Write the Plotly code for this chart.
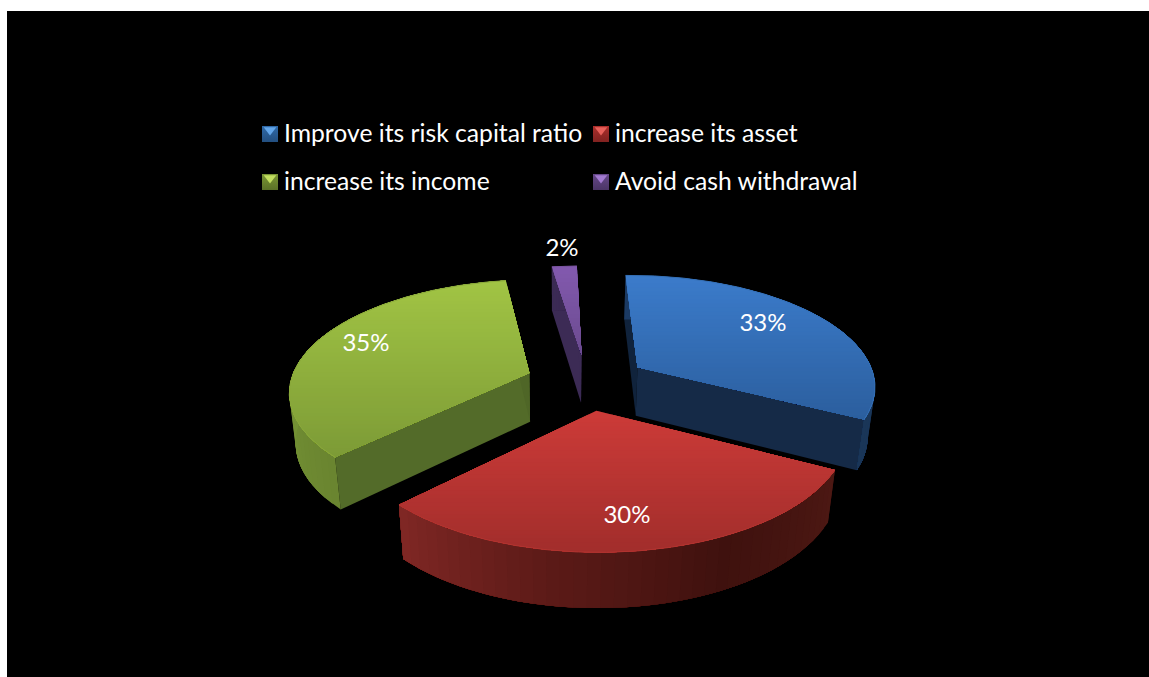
import numpy as np
import plotly.graph_objects as go

# Survey answers: share of respondents per motive
categories = ["Improve its risk capital ratio", "increase its asset", "increase its income", "Avoid cash withdrawal"]
values = [33, 30, 35, 2]

# Surface shades per slice
top_shades = [("#3b7bca", "#2b5e9d"), ("#cc3b38", "#a12d2b"), ("#a1c444", "#7c9a36"), ("#8259ae", "#6a4a8e")]
wall_shades = [
    ["#1b3a63", "#1a3658"],
    ["#4c1813", "#3f110e", "#5b1a17", "#7f2724"],
    ["#6a8530", "#7b9a37", "#7b9a37"],
    ["#3c2b55", "#3c2b55"],
]
start_face_shades = ["#10233c", "#4a1512", "#536b29", "#3c2b55"]
end_face_shades = ["#152a47", "#4a1512", "#4f6627", "#3c2b55"]
rim_shades = ["#3570b6", "#b23430", "#8aa83a", "#7a54a0"]
legend_shades = [("#2f69a8", "#234f80", "#63a6ea"), ("#ac2f2c", "#812220", "#e8605a"),
                 ("#7a9634", "#5b7127", "#c2de5f"), ("#664889", "#4b3566", "#a27ad0")]

# Layout of the page and text, in pixels
W, H = 1149, 677
FRAME = (7, 11)
FONT = "Lato"
LABEL_SIZE = 24
LEGEND_SIZE = 24.7
LEGEND_X = [270, 601]
LEGEND_Y = [134, 182]
LEGEND_TEXT_DX = 14
LEGEND_TEXT_DY = 2
PERCENT_POS = [(763, 325), (627, 517), (366, 345), (562, 250)]

# Camera for the exploded disc: unit radius, height 1 measured downwards
CAM = [236.27564, 96.35548, 586.77412, 1.99923, -51.58597, 381.80595, -0.00375, 0.15282,
       13.06400, 59.27474, 0.02337]
EXPLODE = 0.25635
ROTATE = -0.05444
BANDS_PX = 4


def project(x, y, z):
    p = CAM
    w = p[6] * x + p[7] * y + p[10] * z + 1
    return (p[0] * x + p[1] * y + p[8] * z + p[2]) / w, (p[3] * x + p[4] * y + p[9] * z + p[5]) / w


edges = np.cumsum([0] + values) / sum(values) * 2 * np.pi


def hub(i, z):
    mid = (edges[i] + edges[i + 1]) / 2 + ROTATE
    return project(EXPLODE * np.sin(mid), EXPLODE * np.cos(mid), z)


def rim(i, phi, z):
    mid = (edges[i] + edges[i + 1]) / 2 + ROTATE
    ox, oy = EXPLODE * np.sin(mid), EXPLODE * np.cos(mid)
    return project(ox + np.sin(phi + ROTATE), oy + np.cos(phi + ROTATE), z * np.ones_like(phi))


def rgb(c):
    return np.array([int(c[k:k + 2], 16) for k in (1, 3, 5)], float)


def mix(stops, t):
    pos = t * (len(stops) - 1)
    k = min(int(pos), len(stops) - 2)
    f = pos - k
    c = rgb(stops[k]) * (1 - f) + rgb(stops[k + 1]) * f
    return "rgb(%d,%d,%d)" % tuple(np.round(c))


def clip_below(poly, y0):
    # Keep the part of a polygon with pixel y >= y0
    out = []
    n = len(poly)
    for k in range(n):
        a, b = poly[k], poly[(k + 1) % n]
        ina, inb = a[1] >= y0, b[1] >= y0
        if ina:
            out.append(a)
        if ina != inb:
            f = (y0 - a[1]) / (b[1] - a[1])
            out.append((a[0] + f * (b[0] - a[0]), y0))
    return out


fig = go.Figure()


def paint(xs, ys, colour):
    fig.add_trace(go.Scatter(x=list(xs) + [xs[0]], y=list(ys) + [ys[0]], mode="lines", fill="toself",
                             fillcolor=colour, line=dict(width=0), hoverinfo="skip", showlegend=False))


def cut_face(i, phi, colour):
    hx0, hy0 = hub(i, 0.0)
    hx1, hy1 = hub(i, 1.0)
    ex0, ey0 = rim(i, np.array([phi]), 0.0)
    ex1, ey1 = rim(i, np.array([phi]), 1.0)
    paint([hx0, ex0[0], ex1[0], hx1], [hy0, ey0[0], ey1[0], hy1], colour)


# Far slices first so nearer ones overlap them
for i in [3, 0, 2, 1]:
    # Flat cut faces sit behind the curved wall
    cut_face(i, edges[i], start_face_shades[i])
    cut_face(i, edges[i + 1], end_face_shades[i])

    # Outer wall, overpainted band by band along the arc
    span = np.linspace(edges[i], edges[i + 1], 41)
    for k in range(len(span) - 1):
        phi = np.linspace(span[k], edges[i + 1], 40)
        tx, ty = rim(i, phi, 0.0)
        bx, by = rim(i, phi, 1.0)
        paint(np.r_[tx, bx[::-1]], np.r_[ty, by[::-1]], mix(wall_shades[i], k / (len(span) - 2)))

    # Top surface: a vertical gradient built from overlapping clipped copies
    phi = np.linspace(edges[i], edges[i + 1], 160)
    ax, ay = rim(i, phi, 0.0)
    hx, hy = hub(i, 0.0)
    poly = [(hx, hy)] + list(zip(ax, ay))
    ymin, ymax = min(q[1] for q in poly), max(q[1] for q in poly)
    for y0 in np.arange(ymin, ymax, BANDS_PX):
        part = clip_below(poly, y0)
        if len(part) >= 3:
            paint([q[0] for q in part], [q[1] for q in part], mix(top_shades[i], (y0 - ymin) / (ymax - ymin)))
    fig.add_trace(go.Scatter(x=ax, y=ay, mode="lines", line=dict(color=rim_shades[i], width=1),
                             hoverinfo="skip", showlegend=False))

# Percentage labels
fig.add_trace(go.Scatter(x=[q[0] for q in PERCENT_POS], y=[q[1] for q in PERCENT_POS], mode="text",
                         text=[f"{v}%" for v in values], textposition="middle center",
                         textfont=dict(family=FONT, size=LABEL_SIZE, color="white"),
                         hoverinfo="skip", showlegend=False))

# Legend block: two columns, two rows, bevelled keys
for i, name in enumerate(categories):
    lx, ly = LEGEND_X[i % 2], LEGEND_Y[i // 2]
    base, low, light = legend_shades[i]
    fig.add_trace(go.Scatter(x=[lx], y=[ly], mode="markers", hoverinfo="skip", showlegend=False,
                             marker=dict(symbol="square", size=16, color=base, line=dict(width=0),
                                         gradient=dict(type="vertical", color=low))))
    fig.add_trace(go.Scatter(x=[lx], y=[ly - 4], mode="markers", hoverinfo="skip", showlegend=False,
                             marker=dict(symbol="triangle-down", size=11, color=light, line=dict(width=0))))
    fig.add_trace(go.Scatter(x=[lx + LEGEND_TEXT_DX], y=[ly + LEGEND_TEXT_DY], mode="text", text=[name],
                             textposition="middle right",
                             textfont=dict(family=FONT, size=LEGEND_SIZE, color="white"),
                             hoverinfo="skip", showlegend=False))

fig.update_layout(
    width=W, height=H, margin=dict(l=0, r=0, t=0, b=0), paper_bgcolor="white", plot_bgcolor="white",
    xaxis=dict(range=[0, W], visible=False, fixedrange=True),
    yaxis=dict(range=[H, 0], visible=False, fixedrange=True),
    shapes=[dict(type="rect", xref="x", yref="y", x0=FRAME[0], y0=FRAME[1], x1=W, y1=H,
                 fillcolor="black", line=dict(width=0), layer="below")],
)
fig.write_html("out.html")
